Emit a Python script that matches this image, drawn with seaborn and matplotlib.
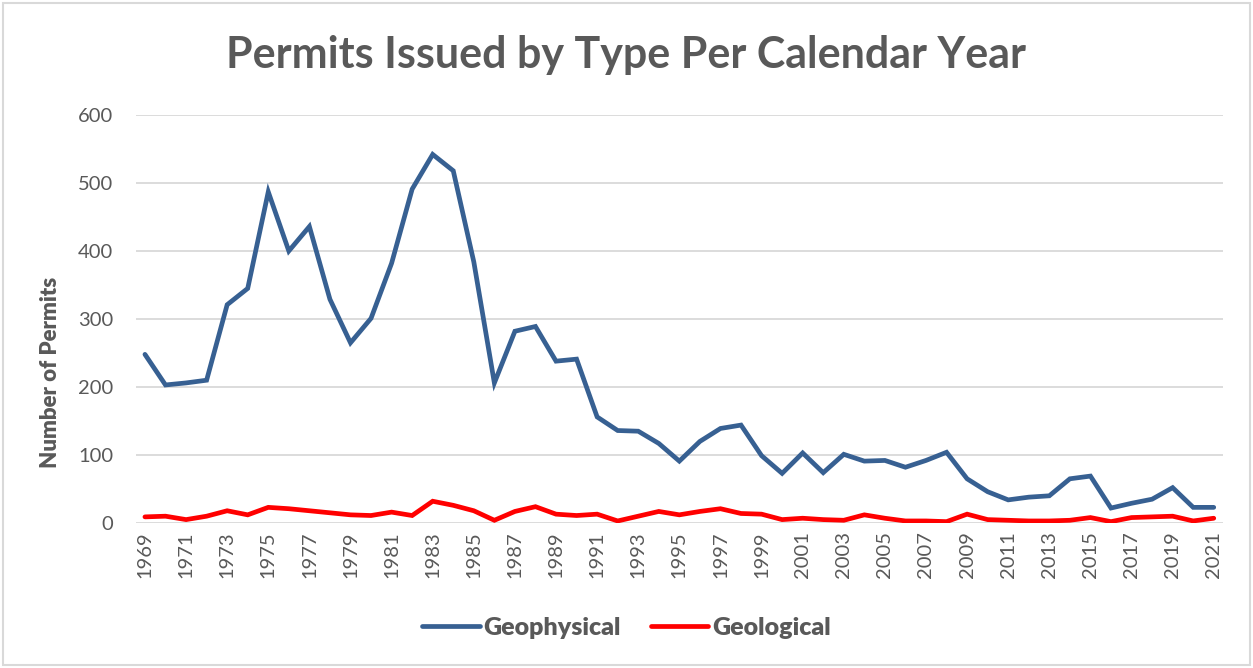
import numpy as np
import pandas as pd
import matplotlib
matplotlib.use("Agg")
import matplotlib.pyplot as plt
import seaborn as sns
from matplotlib.patches import Rectangle
from matplotlib.lines import Line2D

years = list(range(1969, 2022))
geophysical = [248, 203, 206, 210, 321, 345, 487, 400, 436, 329, 265, 301, 382, 491, 542, 518,
               384, 206, 282, 289, 238, 241, 156, 136, 135, 117, 91, 120, 139, 144, 99, 73,
               103, 74, 101, 91, 92, 82, 92, 104, 65, 46, 34, 38, 40, 65, 69, 22, 29, 35,
               52, 23, 23]
geological = [9, 10, 5, 10, 18, 12, 23, 21, 18, 15, 12, 11, 16, 11, 32, 26, 18, 4, 17, 24,
              13, 11, 13, 3, 10, 17, 12, 17, 21, 14, 13, 5, 7, 5, 4, 12, 7, 3, 3, 2, 13, 5,
              4, 3, 3, 4, 8, 2, 8, 9, 10, 3, 7]
series_names = ["Geophysical", "Geological"]
y_ticks = [0, 100, 200, 300, 400, 500, 600]

df = pd.DataFrame({
    "Year": years * 2,
    "Permits": geophysical + geological,
    "Type": [series_names[0]] * len(years) + [series_names[1]] * len(years),
})

sns.set_theme(style="white")
plt.rcParams["font.family"] = ["Lato", "DejaVu Sans"]
text_color = "#595959"

W, H = 1253, 668
fig = plt.figure(figsize=(W / 100, H / 100), dpi=100)
fig.patch.set_facecolor("white")
fig.add_artist(Rectangle((3 / W, 3 / H), 1 - 6 / W, 1 - 6 / H, transform=fig.transFigure,
                         fill=False, edgecolor="#D9D9D9", linewidth=1.5))

ax = fig.add_axes([135.7 / W, 1 - 523 / H, (1223 - 135.7) / W, (523 - 115) / H])
palette = {"Geophysical": "#376092", "Geological": "#FF0000"}
lw = 3.4
sns.lineplot(data=df, x="Year", y="Permits", hue="Type", palette=palette, ax=ax,
             linewidth=lw, legend=False, solid_capstyle="round", solid_joinstyle="miter")

ax.set_ylim(0, 600)
ax.set_xlim(1968.55, 2021.45)
ax.set_yticks(y_ticks)
ax.set_yticklabels([str(v) for v in y_ticks])
ax.set_xticks(years[::2])
ax.set_xticklabels([str(y) for y in years[::2]], rotation=90)
ax.grid(axis="y", color="#D9D9D9", linewidth=1.3)
ax.set_axisbelow(True)
for s in ax.spines.values():
    s.set_visible(False)
ax.tick_params(axis="both", length=0, colors=text_color, labelsize=14.5)
ax.tick_params(axis="y", pad=16)
ax.tick_params(axis="x", pad=6)
ax.set_xlabel("")
ax.set_ylabel("Number of Permits", fontsize=16, fontweight=800, color=text_color)
ax.yaxis.set_label_coords(-0.069, 0.37)

fig.text(0.5, 1 - 55 / H, "Permits Issued by Type Per Calendar Year", ha="center", va="center",
         fontsize=31, fontweight="bold", color=text_color)

handles = [Line2D([0], [0], color=palette[n], linewidth=lw, solid_capstyle="round") for n in series_names]
leg = fig.legend(handles, series_names, loc="center", bbox_to_anchor=(0.5, 1 - 628 / H), ncol=2,
                 frameon=False, handlelength=2.3, handletextpad=0.15, columnspacing=1.2,
                 prop={"size": 18, "weight": 800})
for t in leg.get_texts():
    t.set_color(text_color)

fig.savefig("out.png", dpi=100, facecolor="white")
